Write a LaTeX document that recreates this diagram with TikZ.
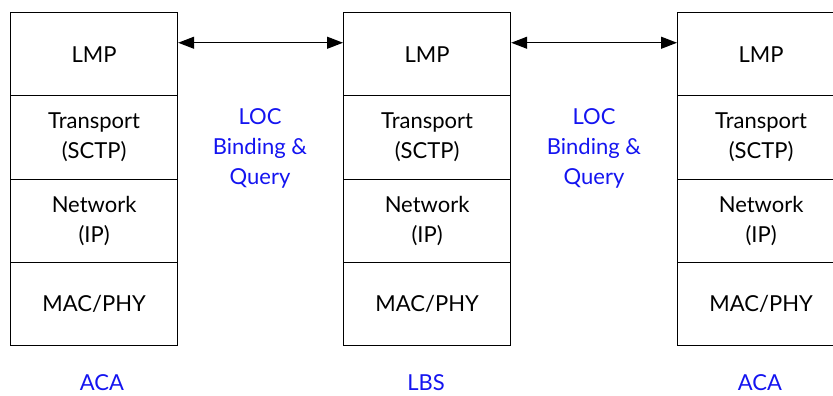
\documentclass[tikz,border=0pt]{standalone}
\usepackage{fontspec}
\setmainfont{Lato}
\usetikzlibrary{arrows.meta}
\definecolor{lblue}{RGB}{20,20,240}
\begin{document}
\begin{tikzpicture}[x=1pt,y=-1pt,
  layer/.style={draw=black,line width=1.2pt,minimum width=167pt,minimum height=83.3pt,inner sep=0pt,align=center,font=\fontsize{22}{30}\selectfont,anchor=north west},
  lbl/.style={text=lblue,align=center,font=\fontsize{22}{30}\selectfont},
  link/.style={line width=1.2pt,{Triangle[length=16pt,width=12pt]}-{Triangle[length=16pt,width=12pt]}}]
\useasboundingbox (0,0) rectangle (833,396);
\clip (0,0) rectangle (833,396);
\foreach \n/\x in {a/10,b/343,c/677}{
  \node[layer] (\n1) at (\x,12) {LMP};
  \node[layer] (\n2) at (\x,95.3) {Transport\\(SCTP)};
  \node[layer] (\n3) at (\x,178.6) {Network\\(IP)};
  \node[layer] (\n4) at (\x,261.9) {MAC/PHY};
}
\coordinate (a1r) at ([yshift=11.5pt]a1.east);
\coordinate (b1l) at ([yshift=11.5pt]b1.west);
\coordinate (b1r) at ([yshift=11.5pt]b1.east);
\coordinate (c1l) at ([yshift=11.5pt]c1.west);
\draw[link] (a1r) -- (b1l);
\draw[link] (b1r) -- (c1l);
\node[lbl] (l1) at (260,148) {LOC\\Binding \&\\Query};
\node[lbl] (l2) at (594,148) {LOC\\Binding \&\\Query};
\node[lbl,anchor=base,inner ysep=0pt] (n1) at (102,390) {ACA};
\node[lbl,anchor=base,inner ysep=0pt] (n2) at (426,390) {LBS};
\node[lbl,anchor=base,inner ysep=0pt] (n3) at (760,390) {ACA};
\end{tikzpicture}
\end{document}
